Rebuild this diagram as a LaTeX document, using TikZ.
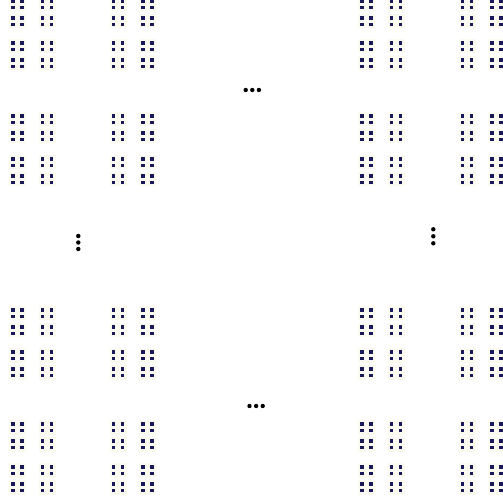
\documentclass[tikz,border=0pt]{standalone}
\definecolor{dotblue}{RGB}{25,25,90}
\definecolor{cellbg}{RGB}{250,250,240}
\begin{document}
\begin{tikzpicture}[x=0.02cm, y=-0.02cm, line join=round, line cap=round]
  \def\ds{1.7}
  \useasboundingbox (0,0) rectangle (503,499);
  % blocks of 2x2 dot clusters
  \foreach \bx in {13,113.5,362,462.5}{
    \foreach \by in {1,43,116,159,310,352,424,467}{
      \foreach \cx in {0,29.5}{
        \foreach \cy in {0,17}{
          \fill[cellbg] (\bx+\cx-4,\by+\cy-4) rectangle (\bx+\cx+13,\by+\cy+10.5);
          \foreach \dx in {0,9}{
            \foreach \dy in {0,6.5}{
              \fill[dotblue] (\bx+\cx+\dx-\ds,\by+\cy+\dy-\ds) rectangle ++(2*\ds,2*\ds);
            }
          }
        }
      }
    }
  }
  % ellipses
  \foreach \i in {0,1,2}{
    \fill (245.7+6.6*\i,90) circle[radius=0.44mm];
    \fill (249.5+6.6*\i,406) circle[radius=0.44mm];
    \fill (78.3,236+6.5*\i) circle[radius=0.44mm];
    \fill (433.3,229.3+7*\i) circle[radius=0.44mm];
  }
\end{tikzpicture}
\end{document}
